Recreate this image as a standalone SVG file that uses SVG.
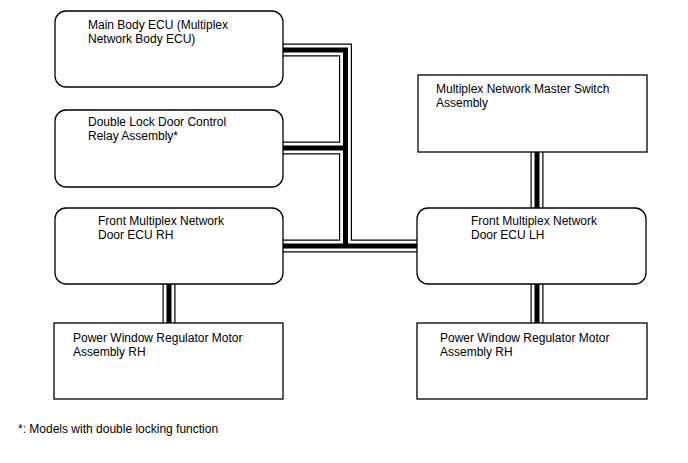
<svg xmlns="http://www.w3.org/2000/svg" width="688" height="463" viewBox="0 0 688 463">
<style>
.box{fill:#fff;stroke:#000;stroke-width:1.3}
.t{font-family:"Liberation Sans",Arial,sans-serif;font-size:12px;fill:#000}
.c1{fill:none;stroke:#000;stroke-width:13}
.c2{fill:none;stroke:#fff;stroke-width:10.6}
.c3{fill:none;stroke:#000;stroke-width:5}
</style>
<rect width="688" height="463" fill="#fff"/>
<g id="connectors">
<path id="bus" d="M283,50 H345.5 V246 M283,148 H345.5 M283,246 H418 M537,152 V208 M169,284 V323 M537,284 V323" class="c1"/>
<path d="M283,50 H345.5 V246 M283,148 H345.5 M283,246 H418 M537,152 V208 M169,284 V323 M537,284 V323" class="c2"/>
<path d="M283,50 H345.5 V246 M283,148 H345.5 M283,246 H418 M537,152 V208 M169,284 V323 M537,284 V323" class="c3"/>
</g>
<g id="main-body-ecu">
<rect class="box" x="55" y="11" width="228" height="76" rx="11"/>
<text class="t" x="88" y="29">Main Body ECU (Multiplex</text>
<text class="t" x="88" y="42.5">Network Body ECU)</text>
</g>
<g id="double-lock-relay">
<rect class="box" x="55" y="110" width="228" height="77" rx="11"/>
<text class="t" x="88" y="126">Double Lock Door Control</text>
<text class="t" x="88" y="139.5">Relay Assembly*</text>
</g>
<g id="door-ecu-rh">
<rect class="box" x="55" y="208" width="228" height="76" rx="11"/>
<text class="t" x="98" y="225">Front Multiplex Network</text>
<text class="t" x="98" y="238.5">Door ECU RH</text>
</g>
<g id="master-switch">
<rect class="box" x="418" y="75" width="229" height="77"/>
<text class="t" x="436" y="93">Multiplex Network Master Switch</text>
<text class="t" x="436" y="106.5">Assembly</text>
</g>
<g id="door-ecu-lh">
<rect class="box" x="417" y="208" width="229" height="76" rx="11"/>
<text class="t" x="471" y="225">Front Multiplex Network</text>
<text class="t" x="471" y="238.5">Door ECU LH</text>
</g>
<g id="pw-motor-left">
<rect class="box" x="54" y="323" width="229" height="76"/>
<text class="t" x="73" y="342">Power Window Regulator Motor</text>
<text class="t" x="73" y="355.5">Assembly RH</text>
</g>
<g id="pw-motor-right">
<rect class="box" x="417" y="323" width="230" height="76"/>
<text class="t" x="440" y="342">Power Window Regulator Motor</text>
<text class="t" x="440" y="355.5">Assembly RH</text>
</g>
<text class="t" x="18" y="432.5">*: Models with double locking function</text>
</svg>
